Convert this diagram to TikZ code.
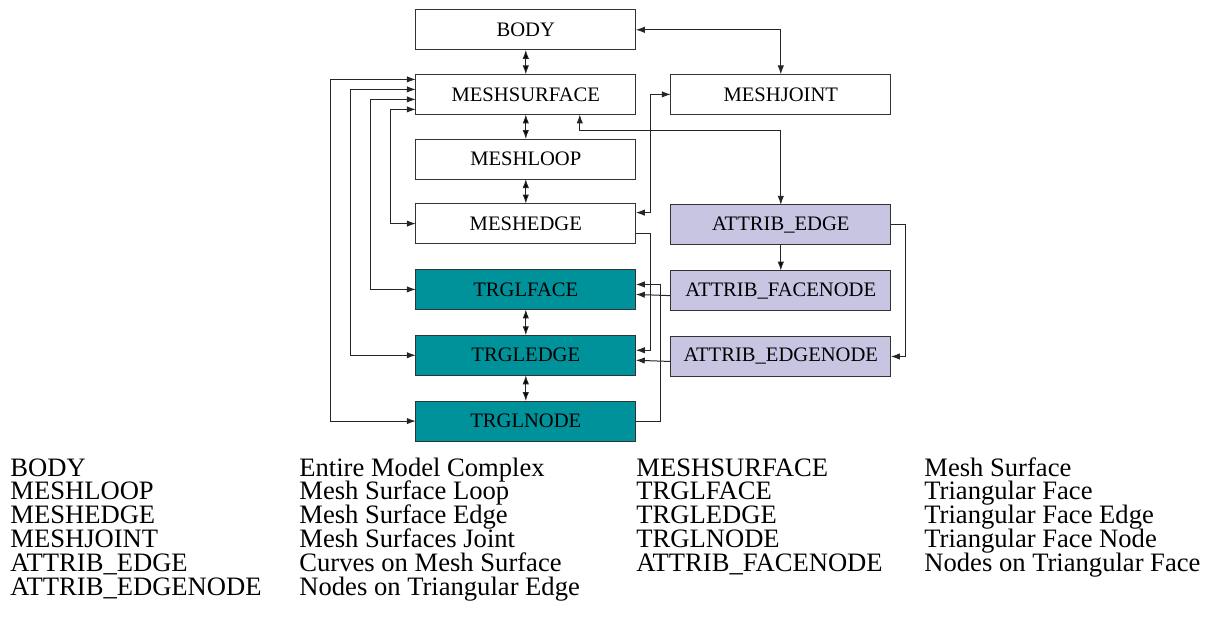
\documentclass[tikz,border=0pt]{standalone}
\usepackage{fontspec}
\setmainfont{Liberation Serif}
\usetikzlibrary{matrix, arrows.meta, positioning}
\definecolor{trglteal}{RGB}{0,146,155}
\definecolor{attribblue}{RGB}{200,197,227}
\tikzset{
    block/.style={
        rectangle,
        draw=black!80,
        minimum width=110pt,
        minimum height=20pt,
        inner sep=1pt,
        outer sep=0pt,
        font=\fontsize{10.3pt}{12pt}\selectfont
    },
    trgl block/.style={
        block,
        fill=trglteal
    },
    attrib block/.style={
        block,
        fill=attribblue
    },
    link/.style={
        >={Latex[length=4.5pt,width=3.2pt]},
        draw=black!85,
        line width=0.5pt
    },
    legend/.style={
        anchor=base west,
        inner sep=0pt,
        font=\fontsize{13.3pt}{15pt}\selectfont
    }
}

\begin{document}
\begin{tikzpicture}[x=0.5pt,y=-0.5pt]
\useasboundingbox (0,0) rectangle (1207,637);
\matrix (m)[matrix of nodes, column sep=17.1pt, row sep=11.9pt, inner sep=0pt, anchor=north west, nodes={block}] at (415,9) {
    BODY & \\
    MESHSURFACE & MESHJOINT \\
    MESHLOOP & \\
    MESHEDGE & |[attrib block]| {ATTRIB\_EDGE} \\
    |[trgl block]| TRGLFACE & |[attrib block]| {ATTRIB\_FACENODE} \\
    |[trgl block]| TRGLEDGE & |[attrib block]| {ATTRIB\_EDGENODE} \\
    |[trgl block]| TRGLNODE & \\
};
% main column
\path [link,<->] (m-1-1) edge (m-2-1);
\path [link,<->] (m-2-1) edge (m-3-1);
\path [link,<->] (m-3-1) edge (m-4-1);
\path [link,<->] (m-5-1) edge (m-6-1);
\path [link,<->] (m-6-1) edge (m-7-1);
% back to MESHSURFACE
\draw [link,<->] (m-4-1.west) -- ++(-12.5pt,0) |- ([yshift=-7.5pt]m-2-1.west);
\draw [link,<->] (m-5-1.west) -- ++(-22.5pt,0) |- ([yshift=-2.5pt]m-2-1.west);
\draw [link,<->] (m-6-1.west) -- ++(-32.5pt,0) |- ([yshift=2.5pt]m-2-1.west);
\draw [link,<->] (m-7-1.west) -- ++(-42.5pt,0) |- ([yshift=7.5pt]m-2-1.west);
% right side
\draw [link,<->] (m-1-1.east) -| (m-2-2.north);
\draw [link,<->] ([xshift=27pt]m-2-1.south) -- ++(0,-8pt) -| (m-4-2.north);
\draw [link,<->] ([yshift=5.5pt]m-4-1.east) -- ++(7.5pt,0) |- (m-2-2.west);
\draw [link,->] ([yshift=-5pt]m-4-1.east) -- ++(7.5pt,0) |- ([yshift=2.5pt]m-6-1.east);
\draw [link,->] (m-7-1.east) -- ++(12.5pt,0) |- ([yshift=2.5pt]m-5-1.east);
\draw [link,->] ([yshift=-2.5pt]m-5-2.west) -- ([yshift=-2.5pt]m-5-1.east);
\draw [link,->] ([yshift=-2.5pt]m-6-2.west) -- ([yshift=-2.5pt]m-6-1.east);
\path [link,->] (m-4-2) edge (m-5-2);
\draw [link,->] (m-4-2.east) -- ++(7.5pt,0) |- (m-6-2.east);
% legend
\foreach \key/\desc [count=\i] in {BODY/Entire Model Complex, MESHLOOP/Mesh Surface Loop, MESHEDGE/Mesh Surface Edge, MESHJOINT/Mesh Surfaces Joint, ATTRIB\_EDGE/Curves on Mesh Surface, ATTRIB\_EDGENODE/Nodes on Triangular Edge}
    {
    \node [legend] (key-a\i) at (10,{476+(\i-1)*23.8}) {\key};
    \node [legend] (desc-a\i) at (299,{476+(\i-1)*23.8}) {\desc};
    }
\foreach \key/\desc [count=\i] in {MESHSURFACE/Mesh Surface, TRGLFACE/Triangular Face, TRGLEDGE/Triangular Face Edge, TRGLNODE/Triangular Face Node, ATTRIB\_FACENODE/Nodes on Triangular Face}
    {
    \node [legend] (key-b\i) at (636,{476+(\i-1)*23.8}) {\key};
    \node [legend] (desc-b\i) at (924,{476+(\i-1)*23.8}) {\desc};
    }
\end{tikzpicture}
\end{document}
